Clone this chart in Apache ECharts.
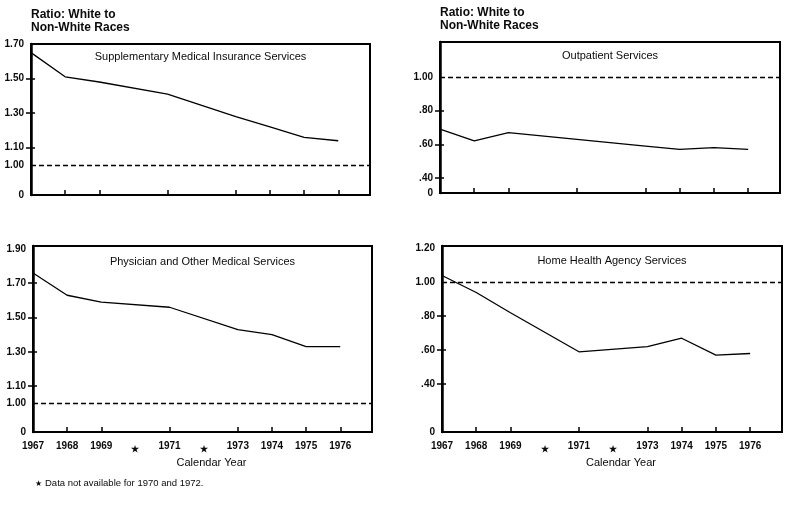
<!DOCTYPE html>
<html><head><meta charset="utf-8">
<script src="https://cdn.jsdelivr.net/npm/echarts@6/dist/echarts.min.js"></script>
<style>html,body{margin:0;padding:0;background:#fff}#c{width:791px;height:507px}</style>
</head><body><div id="c"></div>
<script>
// Years with available data (1970 and 1972 not available)
const years = [1967, 1968, 1969, 1971, 1973, 1974, 1975, 1976];
const smi = [1.65, 1.51, 1.48, 1.41, 1.28, 1.22, 1.16, 1.14];
const outpatient = [0.69, 0.62, 0.67, 0.63, 0.59, 0.57, 0.58, 0.57];
const physician = [1.76, 1.63, 1.59, 1.56, 1.43, 1.40, 1.33, 1.33];
const hha = [1.04, 0.94, 0.82, 0.59, 0.62, 0.67, 0.57, 0.58];
const parity = 1.00;
const xTickYears = [1968, 1969, 1971, 1973, 1974, 1975, 1976];
const xLabelYears = [1967, 1968, 1969, 1970, 1971, 1972, 1973, 1974, 1975, 1976];
const missingYears = [1970, 1972];
const smiLabels = [1.00, 1.10, 1.30, 1.50, 1.70];
const smiTicks = [1.10, 1.30, 1.50];
const outLabels = [0.40, 0.60, 0.80, 1.00];
const outTicks = [0.40, 0.60, 0.80];
const physLabels = [1.00, 1.10, 1.30, 1.50, 1.70, 1.90];
const physTicks = [1.10, 1.30, 1.50, 1.70];
const hhaLabels = [0.40, 0.60, 0.80, 1.00, 1.20];
const hhaTicks = [0.40, 0.60, 0.80];
const titles = ['Supplementary Medical Insurance Services', 'Outpatient Services',
  'Physician and Other Medical Services', 'Home Health Agency Services'];
const yName = 'Ratio: White to\nNon-White Races';
const xName = 'Calendar Year';
const footnote = 'Data not available for 1970 and 1972.';

const FONT = '"Liberation Sans", Arial, Helvetica, sans-serif';
const INK = '#0a0a0a';

const panels = [
  {data: smi, labels: smiLabels, ticks: smiTicks, grid: {left: 31, top: 44, width: 339, height: 151}, yMin: 0.826, yMax: 1.70, xLab: false, name: true, tOff: 13},
  {data: outpatient, labels: outLabels, ticks: outTicks, grid: {left: 440, top: 42, width: 340, height: 151}, yMin: 0.311, yMax: 1.208, xLab: false, name: true, tOff: 14},
  {data: physician, labels: physLabels, ticks: physTicks, grid: {left: 33, top: 246, width: 339, height: 186}, yMin: 0.833, yMax: 1.917, xLab: true, name: false, tOff: 16},
  {data: hha, labels: hhaLabels, ticks: hhaTicks, grid: {left: 442, top: 246, width: 340, height: 186}, yMin: 0.117, yMax: 1.214, xLab: true, name: false, tOff: 15}
];

const grid = [], xAxis = [], yAxis = [], series = [], graphic = [];
panels.forEach((p, i) => {
  grid.push(Object.assign({show: true, borderColor: '#000', borderWidth: 2, backgroundColor: 'transparent'}, p.grid));
  const fmtY = v => Math.abs(v - p.yMin) < 1e-6 ? '0' : (v < 1 ? v.toFixed(2).replace(/^0/, '') : v.toFixed(2));
  xAxis.push({
    type: 'value', gridIndex: i, min: 1967, max: 1976.93,
    axisLine: {show: true, lineStyle: {color: '#000', width: 2}},
    axisTick: {show: true, inside: true, length: 5, customValues: xTickYears, lineStyle: {color: '#000', width: 1.5}},
    splitLine: {show: false},
    axisLabel: {
      show: p.xLab, customValues: xLabelYears, margin: 9, color: INK, fontFamily: FONT, fontSize: 10, fontWeight: 'bold',
      formatter: v => missingYears.indexOf(Math.round(v)) >= 0 ? '{s|★}' : String(Math.round(v)),
      rich: {s: {fontSize: 9, color: INK, padding: [4, 0, 0, 0]}}
    }
  });
  yAxis.push({
    type: 'value', gridIndex: i, min: p.yMin, max: p.yMax, position: 'left',
    name: p.name ? yName : '', nameLocation: 'end', nameGap: 10,
    nameTextStyle: {align: 'left', verticalAlign: 'bottom', fontFamily: FONT, fontSize: 12, fontWeight: 'bold', color: INK, lineHeight: 13},
    axisLine: {show: true, lineStyle: {color: '#000', width: 2.5}},
    axisTick: {show: true, inside: false, length: 5, customValues: p.ticks, lineStyle: {color: '#000', width: 1.5}},
    splitLine: {show: false},
    axisLabel: {show: true, customValues: [p.yMin].concat(p.labels), margin: 7, color: INK, fontFamily: FONT, fontSize: 10, fontWeight: 'bold', formatter: fmtY}
  });
  yAxis.push({
    type: 'value', gridIndex: i, min: p.yMin, max: p.yMax, position: 'left', offset: 0,
    axisLine: {show: false},
    axisTick: {show: true, inside: true, length: 4, customValues: p.ticks, lineStyle: {color: '#000', width: 1.5}},
    splitLine: {show: false}, axisLabel: {show: false}
  });
  series.push({
    type: 'line', xAxisIndex: i, yAxisIndex: 2 * i,
    data: years.map((y, k) => [y, p.data[k]]),
    showSymbol: false, symbol: 'none', silent: true,
    lineStyle: {color: '#000', width: 1.3},
    markLine: {
      silent: true, symbol: 'none', label: {show: false},
      lineStyle: {color: '#000', type: [5, 3], width: 1.4},
      data: [{yAxis: parity}]
    }
  });
  graphic.push({
    type: 'text',
    x: p.grid.left + p.grid.width / 2, y: p.grid.top + p.tOff,
    style: {text: titles[i], textAlign: 'center', textVerticalAlign: 'middle', font: '11px ' + FONT, fill: INK}
  });
  if (p.xLab) {
    graphic.push({
      type: 'text',
      x: p.grid.left + p.grid.width / 2 + 9, y: p.grid.top + p.grid.height + 31,
      style: {text: xName, textAlign: 'center', textVerticalAlign: 'middle', font: '11px ' + FONT, fill: INK}
    });
  }
});
graphic.push({type: 'text', x: 35, y: 484, style: {text: '★', textAlign: 'left', textVerticalAlign: 'middle', font: '8px ' + FONT, fill: INK}});
graphic.push({type: 'text', x: 45, y: 483, style: {text: footnote, textAlign: 'left', textVerticalAlign: 'middle', font: '9.5px ' + FONT, fill: INK}});

const chart = echarts.init(document.getElementById('c'), null, {renderer: 'canvas'});
chart.setOption({animation: false, backgroundColor: '#fff', grid, xAxis, yAxis, series, graphic});
</script></body></html>
